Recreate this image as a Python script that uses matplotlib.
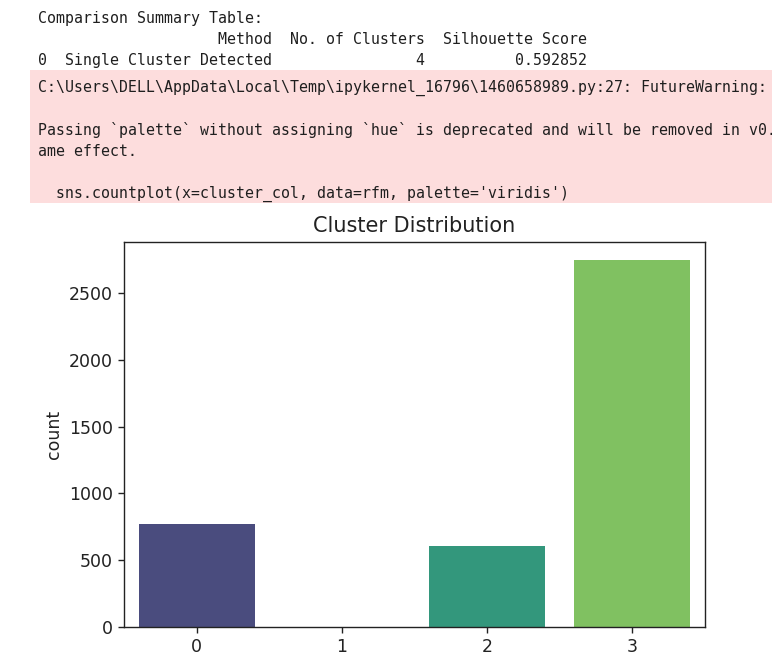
import matplotlib.pyplot as plt
import matplotlib.patches as patches
import seaborn as sns

W, H = 772, 653

# console output above the chart
summary_title = "Comparison Summary Table:"
table_cols = ["Method", "No. of Clusters", "Silhouette Score"]
table_row = ["0", "Single Cluster Detected", "4", "0.592852"]
warning_lines = [
    "C:\\Users\\DELL\\AppData\\Local\\Temp\\ipykernel_16796\\1460658989.py:27: FutureWarning:",
    "",
    "Passing `palette` without assigning `hue` is deprecated and will be removed in v0.",
    "ame effect.",
    "",
    "  sns.countplot(x=cluster_col, data=rfm, palette='viridis')",
]

# chart data
clusters = ["0", "1", "2", "3"]
counts = [773, 0, 605, 2746]
chart_title = "Cluster Distribution"


def fx(px):
    return px / W


def fy(py):
    return 1 - py / H


fig = plt.figure(figsize=(W / 100, H / 100), dpi=100)

mono = dict(family="DejaVu Sans Mono", fontsize=10.7, color="#1f1f1f", va="center")

# pandas style table text
header = " " + "  " + table_cols[0].rjust(len(table_row[1])) + "  " + table_cols[1] + "  " + table_cols[2]
row = (table_row[0] + "  " + table_row[1] + "  " + table_row[2].rjust(len(table_cols[1]))
       + "  " + table_row[3].rjust(len(table_cols[2])))
fig.text(fx(38), fy(18), summary_title, **mono)
fig.text(fx(38), fy(39), header, **mono)
fig.text(fx(38), fy(61), row, **mono)

# warning box
fig.patches.append(patches.Rectangle((fx(30), fy(203)), fx(W) - fx(30), fy(70) - fy(203),
                                     transform=fig.transFigure, facecolor="#fddddd",
                                     edgecolor="none", zorder=0))
for i, line in enumerate(warning_lines):
    if line:
        fig.text(fx(38), fy(88 + i * 21.2), line, **mono)

# the count plot
ax = fig.add_axes([fx(124), fy(627), fx(705) - fx(124), fy(242) - fy(627)])
pal = sns.color_palette("viridis", len(clusters), desat=0.75)
xs = range(len(clusters))
ax.bar(xs, counts, width=0.8, color=pal)
ax.set_xlim(-0.5, len(clusters) - 0.5)
ax.set_ylim(0, max(counts) * 1.05)
ax.set_xticks(list(xs))
ax.set_xticklabels(clusters)
ax.set_yticks([0, 500, 1000, 1500, 2000, 2500])
ax.tick_params(labelsize=12.5, length=4.4, width=1.0, colors="#222222")
for s in ax.spines.values():
    s.set_linewidth(1.0)
    s.set_color("#222222")
ax.set_ylabel("count", fontsize=12.5, color="#222222")
ax.set_title(chart_title, fontsize=15, color="#222222", pad=7)

fig.savefig("out.png", dpi=100)
